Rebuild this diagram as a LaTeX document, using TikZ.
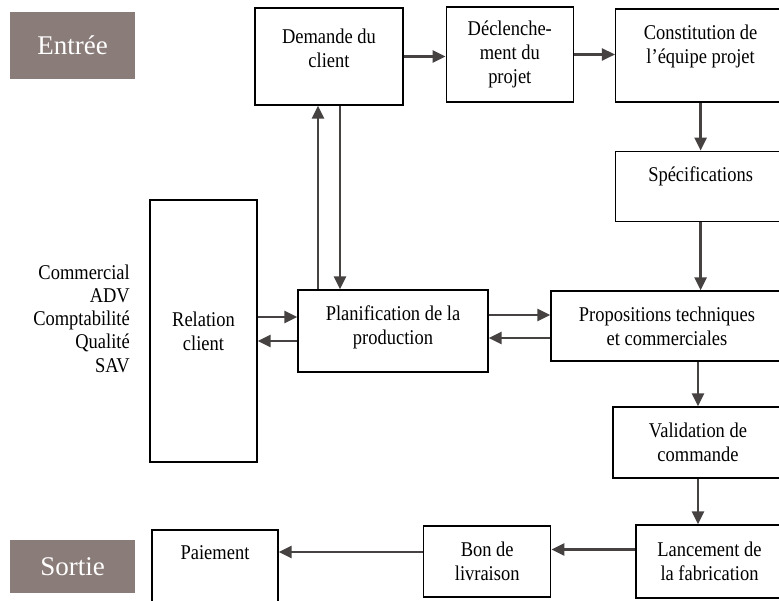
\documentclass[tikz,border=0pt]{standalone}
\usepackage{fontspec}
\setmainfont{Liberation Serif}[FakeStretch=0.88]
\newfontfamily\tagfont{Liberation Serif}
\usetikzlibrary{positioning, arrows.meta}
\definecolor{tagfill}{RGB}{138,124,120}
\definecolor{arrgray}{RGB}{70,66,66}

\begin{document}
\begin{tikzpicture}[x=1pt, y=1pt,
    every node/.style={font=\fontsize{21}{24}\selectfont},
    bloc/.style={rectangle, draw, line width=1.3pt, align=center, inner sep=0pt},
    toptext/.style={align=center, anchor=north, inner sep=0pt, yshift=-16pt},
    bloctop/.style={bloc, label={[toptext]north:#1}},
    tag/.style={rectangle, fill=tagfill, text=white, inner sep=0pt, font=\tagfont\fontsize{27}{30}\selectfont},
    arrow/.style={-{Triangle[length=13pt, width=12pt]}, line width=2.5pt, color=arrgray}]

  \useasboundingbox (0,0) rectangle (779,600);

  \node[tag, minimum width=125pt, minimum height=67pt] (entree) at (72.5,554.5) {Entrée};
  \node[tag, minimum width=125pt, minimum height=53pt] (sortie) at (72.5,33.5) {Sortie};

  \node[bloc, minimum width=148pt, minimum height=97pt,
        label={[toptext, yshift=-5pt]north:Demande du\\client}] (demande) at (329,543.5) {};
  \node[bloc, minimum width=127pt, minimum height=95pt, right=42pt of demande, yshift=2pt] (declench) {Déclenche-\\ment du\\projet};
  \node[bloctop={Constitution de\\l’équipe projet}, minimum width=170pt, minimum height=93pt, right=41pt of declench, yshift=-1pt] (constitution) {};
  \node[bloctop={Spécifications}, minimum width=170pt, minimum height=70pt, below=48pt of constitution] (specs) {};

  \node[bloc, minimum width=232pt, minimum height=70pt] (propos) at (667,274) {Propositions techniques\\et commerciales};
  \node[bloctop={Planification de la\\production}, minimum width=190pt, minimum height=82pt] (planif) at (393,269) {};
  \node[bloc, minimum width=107pt, minimum height=262pt] (relation) at (203.5,269) {Relation\\client};
  \node[anchor=east, align=right, inner sep=0pt, font=\fontsize{21}{23.3}\selectfont] (services) at (130,281.5)
    {Commercial\\ADV\\Comptabilité\\Qualité\\SAV};

  \node[bloc, minimum width=170pt, minimum height=71pt] (validation) at (698,157.5) {Validation de\\commande};
  \node[bloc, minimum width=147pt, minimum height=73pt] (lancement) at (709.5,38.5) {Lancement de\\la fabrication};
  \node[bloc, minimum width=127pt, minimum height=71pt, left=84pt of lancement] (bon) {Bon de\\livraison};
  \node[bloctop={Paiement}, minimum width=126pt, minimum height=80pt] (paiement) at (215,30) {};

  \draw[arrow] (demande.east) -- (demande.east -| declench.west);
  \draw[arrow] (declench.east) -- (declench.east -| constitution.west);
  \draw[arrow] (constitution) -- (specs);
  \draw[arrow] (specs.south) -- (specs.south |- propos.north);
  \draw[arrow] (validation.north |- propos.south) -- (validation.north);
  \draw[arrow] (validation.south) -- (validation.south |- lancement.north);
  \draw[arrow] ([yshift=12pt]lancement.west) -- ([yshift=12pt]bon.east);
  \draw[arrow] ([yshift=9.5pt]bon.west) -- ([yshift=18pt]paiement.east);

  \draw[arrow] ([yshift=14pt]relation.east) -- ([yshift=14pt]planif.west);
  \draw[arrow] ([yshift=-10pt]planif.west) -- ([yshift=-10pt]relation.east);
  \draw[arrow] ([yshift=16pt]planif.east) -- ([yshift=11pt]propos.west);
  \draw[arrow] ([yshift=-12pt]propos.west) -- ([yshift=-7pt]planif.east);

  \coordinate (montee) at ([xshift=-11pt]demande.south);
  \coordinate (descente) at ([xshift=11pt]demande.south);
  \draw[arrow] (montee |- planif.north) -- (montee);
  \draw[arrow] (descente) -- (descente |- planif.north);
\end{tikzpicture}
\end{document}
